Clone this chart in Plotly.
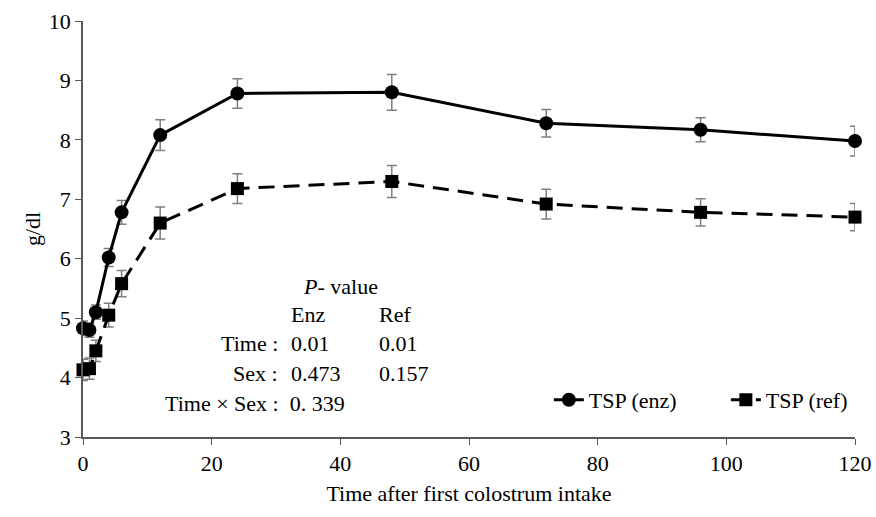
import plotly.graph_objects as go

time_h = [0, 1, 2, 4, 6, 12, 24, 48, 72, 96, 120]
tsp_enz = [4.83, 4.80, 5.10, 6.02, 6.78, 8.08, 8.78, 8.80, 8.28, 8.17, 7.98]
tsp_enz_err = [0.12, 0.12, 0.12, 0.15, 0.20, 0.26, 0.25, 0.30, 0.23, 0.20, 0.25]
tsp_ref = [4.13, 4.15, 4.45, 5.05, 5.58, 6.60, 7.18, 7.30, 6.92, 6.78, 6.70]
tsp_ref_err = [0.18, 0.18, 0.18, 0.20, 0.22, 0.27, 0.25, 0.27, 0.25, 0.23, 0.23]

x_ticks = [0, 20, 40, 60, 80, 100, 120]
y_ticks = [3, 4, 5, 6, 7, 8, 9, 10]

FONT = "Liberation Serif"
FS = 22
W, H = 876, 517
L, R, T, B = 83, 21, 21, 80

fig = go.Figure()
fig.add_trace(go.Scatter(
    x=time_h, y=tsp_enz, name="TSP (enz)", mode="lines+markers",
    line=dict(color="black", width=3),
    marker=dict(symbol="circle", size=14, color="black"),
    error_y=dict(type="data", array=tsp_enz_err, color="#7f7f7f", thickness=1.5, width=5),
    cliponaxis=False,
))
fig.add_trace(go.Scatter(
    x=time_h, y=tsp_ref, name="TSP (ref)", mode="lines+markers",
    line=dict(color="black", width=3, dash="16px,9px"),
    marker=dict(symbol="square", size=13, color="black"),
    error_y=dict(type="data", array=tsp_ref_err, color="#7f7f7f", thickness=1.5, width=5),
    cliponaxis=False,
))

def px(xp):
    return (xp - L) / (W - L - R)

def py(yp):
    return (H - B - yp) / (H - T - B)

ann_font = dict(family=FONT, size=FS, color="black")
anns = [
    ("<i>P</i>- value", 340, 286, "center"),
    ("Enz", 289, 314, "left"),
    ("Ref", 377, 314, "left"),
    ("Time :", 280, 343, "right"),
    ("0.01", 289, 343, "left"),
    ("0.01", 377, 343, "left"),
    ("Sex :", 280, 373, "right"),
    ("0.473", 289, 373, "left"),
    ("0.157", 377, 373, "left"),
    ("Time × Sex :  0. 339", 163, 403, "left"),
]
annotations = [
    dict(text=t, x=px(xp), y=py(yp), xref="paper", yref="paper",
         xanchor=a, yanchor="middle", showarrow=False, font=ann_font)
    for t, xp, yp, a in anns
]

fig.update_layout(
    width=W, height=H,
    margin=dict(l=L, r=R, t=T, b=B, autoexpand=False),
    paper_bgcolor="white", plot_bgcolor="white",
    font=dict(family=FONT, size=FS, color="black"),
    showlegend=True,
    legend=dict(orientation="h", x=1.062, xanchor="right", y=py(400), yanchor="middle",
                font=dict(family=FONT, size=FS), bgcolor="rgba(0,0,0,0)",
                entrywidth=132, entrywidthmode="pixels"),
    annotations=annotations,
    xaxis=dict(range=[0, 120], tickvals=x_ticks, showgrid=False, zeroline=False,
               showline=True, linecolor="#595959", linewidth=1.5, automargin=False,
               ticks="outside", ticklen=6, tickcolor="#595959",
               title=dict(text="Time after first colostrum intake", standoff=10,
                          font=dict(family=FONT, size=FS))),
    yaxis=dict(range=[3, 10], tickvals=y_ticks, showgrid=False, zeroline=False,
               showline=True, linecolor="#595959", linewidth=1.5, automargin=False,
               ticks="outside", ticklen=6, tickcolor="#595959",
               title=dict(text="g/dl", standoff=2, font=dict(family=FONT, size=FS))),
)

fig.write_html("out.html")
